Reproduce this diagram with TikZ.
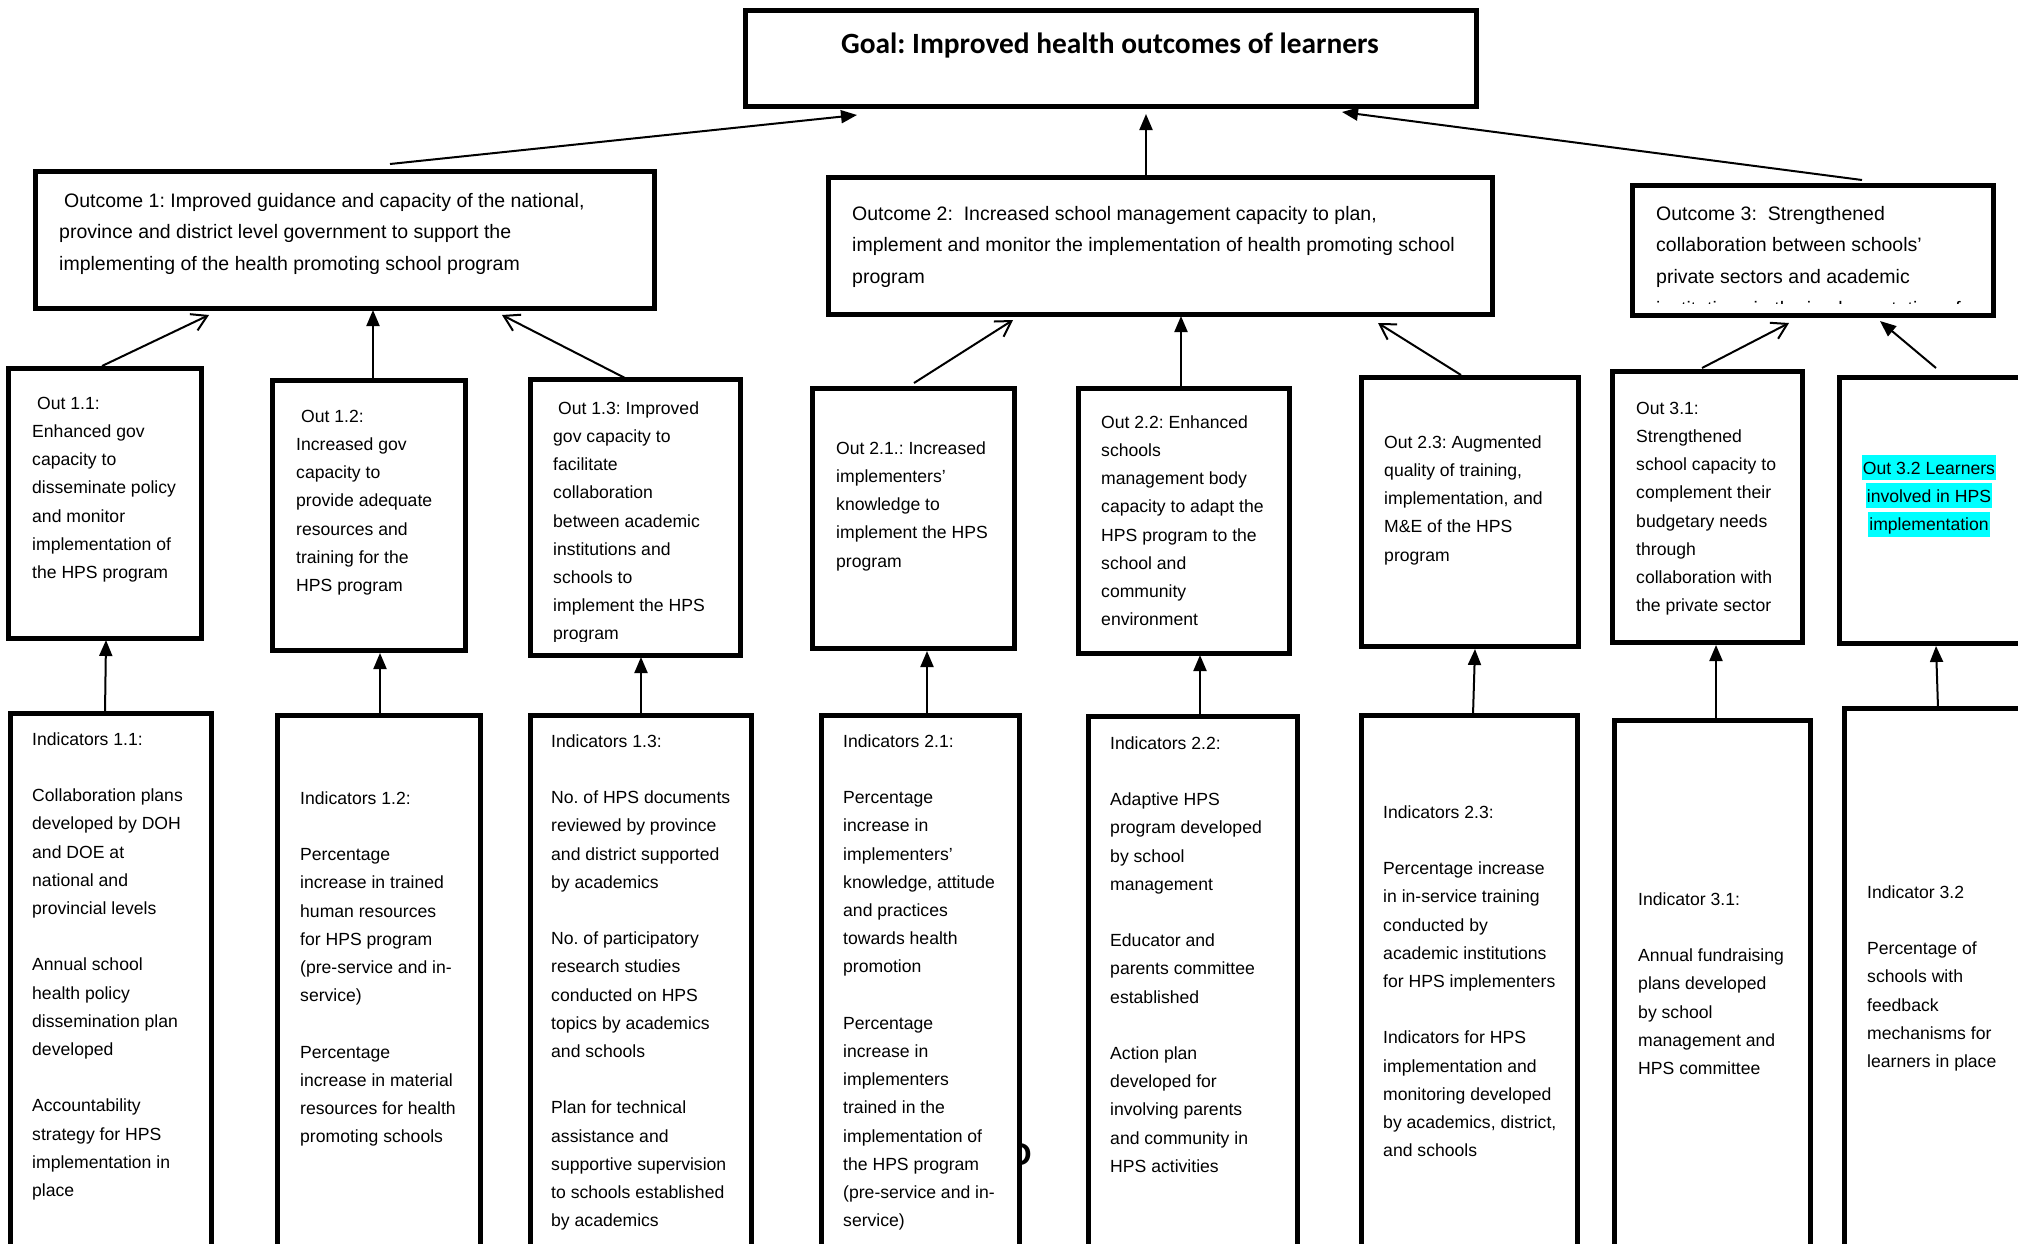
\documentclass[tikz,border=0pt]{standalone}
\usepackage{fontspec}
\setmainfont{Liberation Sans}
\newfontfamily\goalfont{Carlito}
\usetikzlibrary{arrows.meta,calc,fit}
\definecolor{hlcyan}{HTML}{00FFFF}
\frenchspacing
% one highlighted line of text
\newcommand\hlline[1]{{\setlength{\fboxsep}{0pt}\colorbox{hlcyan}{\rule[-6pt]{0pt}{25pt}\hspace{1pt}#1\hspace{1pt}}}}
% empty line between paragraphs
\newcommand\gap{\\ \mbox{}\\}
% fixed first-line heights, so that a node's top lies a known distance above its first baseline
\newcommand\sa{\rule{0pt}{14pt}}
\newcommand\ba{\rule{0pt}{16pt}}

\tikzset{
  box/.style={draw, line width=5pt, inner sep=0pt, outer sep=0pt},
  small/.style={font=\fontsize{17.6pt}{28.2pt}\selectfont, align=left, inner sep=0pt, anchor=north west},
  big/.style={font=\fontsize{19.5pt}{31.7pt}\selectfont, align=left, inner sep=0pt, anchor=north west},
  filled/.style={line width=2pt, -{Triangle[length=16pt,width=13pt]}},
  open/.style={line width=2pt, -{Straight Barb[length=15pt,width=18pt]}},
}

\begin{document}
\begin{tikzpicture}[x=1pt,y=-1pt]
\useasboundingbox (0,0) rectangle (2018,1243);
\clip (0,0) rectangle (2018,1243);

% ---------- goal ----------
\node[box, fit={(745,10) (1476,106)}] (goal) {};
\node[font=\goalfont\bfseries\fontsize{29.4pt}{34pt}\selectfont, inner sep=0pt, anchor=base] (goalt) at (1110,53) {Goal: Improved health outcomes of learners};

% ---------- outcomes (text top = first baseline - 16) ----------
\node[box, fit={(35,171) (654,308)}] (oc1) {};
\node[box, fit={(828,177) (1492,314)}] (oc2) {};
\node[box, fit={(1632,185) (1993,315)}] (oc3) {};

\node[big] (oc1t) at (59,191) {\ba\hspace*{5pt}Outcome 1: Improved guidance and capacity of the national,\\province and district level government to support the\\implementing of the health promoting school program};
\node[big] (oc2t) at (852,204) {\ba Outcome 2:\ \ Increased school management capacity to plan,\\implement and monitor the implementation of health promoting school\\program};
\begin{scope}
  \clip (1640,190) rectangle (1990,303);
  \node[big] (oc3t) at (1656,204) {\ba Outcome 3:\ \ Strengthened\\collaboration between schools’\\private sectors and academic\\institutions in the implementation of};
\end{scope}

% ---------- outputs (text top = first baseline - 14) ----------
\node[box, fit={(8,368) (201,638)}] (o11) {};
\node[box, fit={(272,380) (465,650)}] (o12) {};
\node[box, fit={(530,379) (740,655)}] (o13) {};
\node[box, fit={(812,388) (1014,648)}] (o21) {};
\node[box, fit={(1078,388) (1289,653)}] (o22) {};
\node[box, fit={(1361,377) (1578,646)}] (o23) {};
\node[box, fit={(1612,371) (1802,642)}] (o31) {};
\node[box, fit={(1839,377) (2040,643)}] (o32) {};

\node[small] (o11t) at (32,395) {\sa\hspace*{5pt}Out 1.1:\\Enhanced gov\\capacity to\\disseminate policy\\and monitor\\implementation of\\the HPS program};
\node[small] (o12t) at (296,408) {\sa\hspace*{5pt}Out 1.2:\\Increased gov\\capacity to\\provide adequate\\resources and\\training for the\\HPS program};
\begin{scope}
  \clip (535,385) rectangle (735,641);
  \node[small] (o13t) at (553,400) {\sa\hspace*{5pt}Out 1.3: Improved\\gov capacity to\\facilitate\\collaboration\\between academic\\institutions and\\schools to\\implement the HPS\\program};
\end{scope}
\node[small] (o21t) at (836,440) {\sa Out 2.1.: Increased\\implementers’\\knowledge to\\implement the HPS\\program};
\node[small] (o22t) at (1101,414) {\sa Out 2.2: Enhanced\\schools\\management body\\capacity to adapt the\\HPS program to the\\school and\\community\\environment};
\node[small] (o23t) at (1384,434) {\sa Out 2.3: Augmented\\quality of training,\\implementation, and\\M\&E of the HPS\\program};
\node[small] (o31t) at (1636,400) {\sa Out 3.1:\\Strengthened\\school capacity to\\complement their\\budgetary needs\\through\\collaboration with\\the private sector};
\node[small, align=center, anchor=north] (o32t) at (1929,455) {\hlline{Out 3.2 Learners}\\\hlline{involved in HPS}\\\hlline{implementation}};

% ---------- indicators ----------
\node[box, fit={(10,713) (211,1270)}] (i11) {};
\node[box, fit={(277,715) (480,1270)}] (i12) {};
\node[box, fit={(530,715) (751,1270)}] (i13) {};
\node[box, fit={(821,715) (1019,1270)}] (i21) {};
\node[box, fit={(1088,716) (1297,1270)}] (i22) {};
\node[box, fit={(1361,715) (1577,1270)}] (i23) {};
\node[box, fit={(1614,720) (1810,1270)}] (i31) {};
\node[box, fit={(1844,708) (2040,1270)}] (i32) {};

\node[small] (i11t) at (32,731) {\sa Indicators 1.1:\gap Collaboration plans\\developed by DOH\\and DOE at\\national and\\provincial levels\gap Annual school\\health policy\\dissemination plan\\developed\gap Accountability\\strategy for HPS\\implementation in\\place};
\node[small] (i12t) at (300,790) {\sa Indicators 1.2:\gap Percentage\\increase in trained\\human resources\\for HPS program\\(pre-service and in-\\service)\gap Percentage\\increase in material\\resources for health\\promoting schools};
\node[small] (i13t) at (551,733) {\sa Indicators 1.3:\gap No. of HPS documents\\reviewed by province\\and district supported\\by academics\gap No. of participatory\\research studies\\conducted on HPS\\topics by academics\\and schools\gap Plan for technical\\assistance and\\supportive supervision\\to schools established\\by academics};
\node[small] (i21t) at (843,733) {\sa Indicators 2.1:\gap Percentage\\increase in\\implementers’\\knowledge, attitude\\and practices\\towards health\\promotion\gap Percentage\\increase in\\implementers\\trained in the\\implementation of\\the HPS program\\(pre-service and in-\\service)};
\node[small] (i22t) at (1110,735) {\sa Indicators 2.2:\gap Adaptive HPS\\program developed\\by school\\management\gap Educator and\\parents committee\\established\gap Action plan\\developed for\\involving parents\\and community in\\HPS activities};
\node[small] (i23t) at (1383,804) {\sa Indicators 2.3:\gap Percentage increase\\in in-service training\\conducted by\\academic institutions\\for HPS implementers\gap Indicators for HPS\\implementation and\\monitoring developed\\by academics, district,\\and schools};
\node[small] (i31t) at (1638,891) {\sa Indicator 3.1:\gap Annual fundraising\\plans developed\\by school\\management and\\HPS committee};
\node[small] (i32t) at (1867,884) {\sa Indicator 3.2\gap Percentage of\\schools with\\feedback\\mechanisms for\\learners in place};

% stray glyph partly hidden behind the right edge of i21
\begin{scope}
  \clip (1022,1130) rectangle (1045,1180);
  \node[font=\bfseries\fontsize{32pt}{32pt}\selectfont, inner sep=0pt, anchor=base east] (frag) at (1032,1165) {D};
\end{scope}

% ---------- connectors: outcomes to goal ----------
\draw[filled] ($(oc1.north west)+(355,-7)$) -- ($(goal.south west)+(112,9)$);
\draw[filled] ($(oc2.north west)+(318,0)$) -- ($(goal.south west)+(401,8)$);
\draw[filled] ($(oc3.north west)+(230,-5)$) -- ($(goal.south east)+(-134,6)$);

% ---------- outputs to outcomes ----------
\draw[open]   ($(o11.north west)+(94,-2)$)  -- ($(oc1.south west)+(174,7)$);
\draw[filled] ($(o12.north west)+(101,0)$)  -- ($(oc1.south west)+(338,2)$);
\draw[open]   ($(o13.north west)+(95,-1)$)  -- ($(oc1.south west)+(467,7)$);
\draw[open]   ($(o21.north west)+(102,-5)$) -- ($(oc2.south west)+(185,6)$);
\draw[filled] ($(o22.north west)+(103,0)$)  -- ($(oc2.south west)+(353,2)$);
\draw[open]   ($(o23.north west)+(100,-2)$) -- ($(oc2.south west)+(550,9)$);
\draw[open]   ($(o31.north west)+(90,-3)$)  -- ($(oc3.south west)+(157,8)$);
\draw[filled] ($(o32.north west)+(97,-9)$)  -- ($(oc3.south west)+(248,6)$);

% ---------- indicators to outputs ----------
\draw[filled] ($(i11.north west)+(95,0)$)  -- ($(o11.south west)+(98,2)$);
\draw[filled] ($(i12.north west)+(103,0)$) -- ($(o12.south west)+(108,3)$);
\draw[filled] ($(i13.north west)+(111,0)$) -- ($(o13.south west)+(111,2)$);
\draw[filled] ($(i21.north west)+(106,0)$) -- ($(o21.south west)+(115,3)$);
\draw[filled] ($(i22.north west)+(112,0)$) -- ($(o22.south west)+(122,2)$);
\draw[filled] ($(i23.north west)+(112,0)$) -- ($(o23.south west)+(114,3)$);
\draw[filled] ($(i31.north west)+(102,0)$) -- ($(o31.south west)+(104,3)$);
\draw[filled] ($(i32.north west)+(94,0)$)  -- ($(o32.south west)+(97,3)$);
\end{tikzpicture}
\end{document}
